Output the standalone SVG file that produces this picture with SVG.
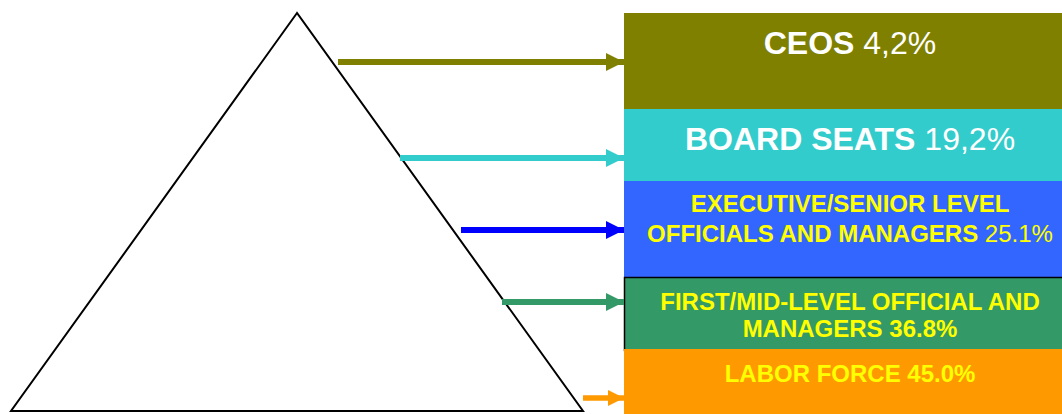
<svg xmlns="http://www.w3.org/2000/svg" width="1062" height="414" viewBox="0 0 1062 414">
<style>
text{font-family:"Liberation Sans",Arial,sans-serif;text-anchor:middle}
.w{fill:#fff;font-size:32px}
.y{fill:#ffff00;font-size:24px}
.b{font-weight:bold}
.n{font-weight:normal}
</style>
<defs>
<marker id="ah" markerWidth="3" markerHeight="3" refX="3" refY="1.5" orient="auto" markerUnits="strokeWidth">
<path d="M0,0 L3,1.5 L0,3 Z" fill="context-stroke"/>
</marker>
</defs>
<rect width="1062" height="414" fill="#fff"/>
<g id="pyramid">
<polygon points="297,13 11,411 583,411" fill="#fff" stroke="#000" stroke-width="2"/>
</g>
<g id="ceos">
<rect x="624" y="13" width="438" height="96" fill="#808000"/>
<text x="850" y="54" class="w"><tspan class="b">CEOS</tspan> 4,2%</text>
</g>
<g id="board">
<rect x="624" y="109" width="438" height="72" fill="#33cccc"/>
<text x="850" y="150" class="w"><tspan class="b">BOARD SEATS</tspan> 19,2%</text>
</g>
<g id="executive">
<rect x="624" y="181" width="438" height="96" fill="#3366ff"/>
<text x="850" y="212" class="y b">EXECUTIVE/SENIOR LEVEL</text>
<text x="850" y="242" class="y"><tspan class="b">OFFICIALS AND MANAGERS</tspan> 25.1%</text>
</g>
<g id="firstmid">
<rect x="624.5" y="277.5" width="440" height="73" fill="#339966" stroke="#000" stroke-width="1.5"/>
<text x="850" y="310" class="y b">FIRST/MID-LEVEL OFFICIAL AND</text>
<text x="850" y="337" class="y b">MANAGERS 36.8%</text>
</g>
<g id="labor">
<rect x="624" y="349" width="438" height="65" fill="#ff9900"/>
<text x="850" y="382" class="y b">LABOR FORCE 45.0%</text>
</g>
<g id="connectors" fill="none">
<line x1="338" y1="62" x2="624" y2="62" stroke="#808000" stroke-width="6" marker-end="url(#ah)"/>
<line x1="400" y1="158" x2="624" y2="158" stroke="#33cccc" stroke-width="6" marker-end="url(#ah)"/>
<line x1="461" y1="230" x2="624" y2="230" stroke="#0000ff" stroke-width="6" marker-end="url(#ah)"/>
<line x1="502" y1="302" x2="624" y2="302" stroke="#339966" stroke-width="6" marker-end="url(#ah)"/>
<line x1="583" y1="398" x2="624" y2="398" stroke="#ff9900" stroke-width="5.5" marker-end="url(#ah)"/>
</g>
</svg>
